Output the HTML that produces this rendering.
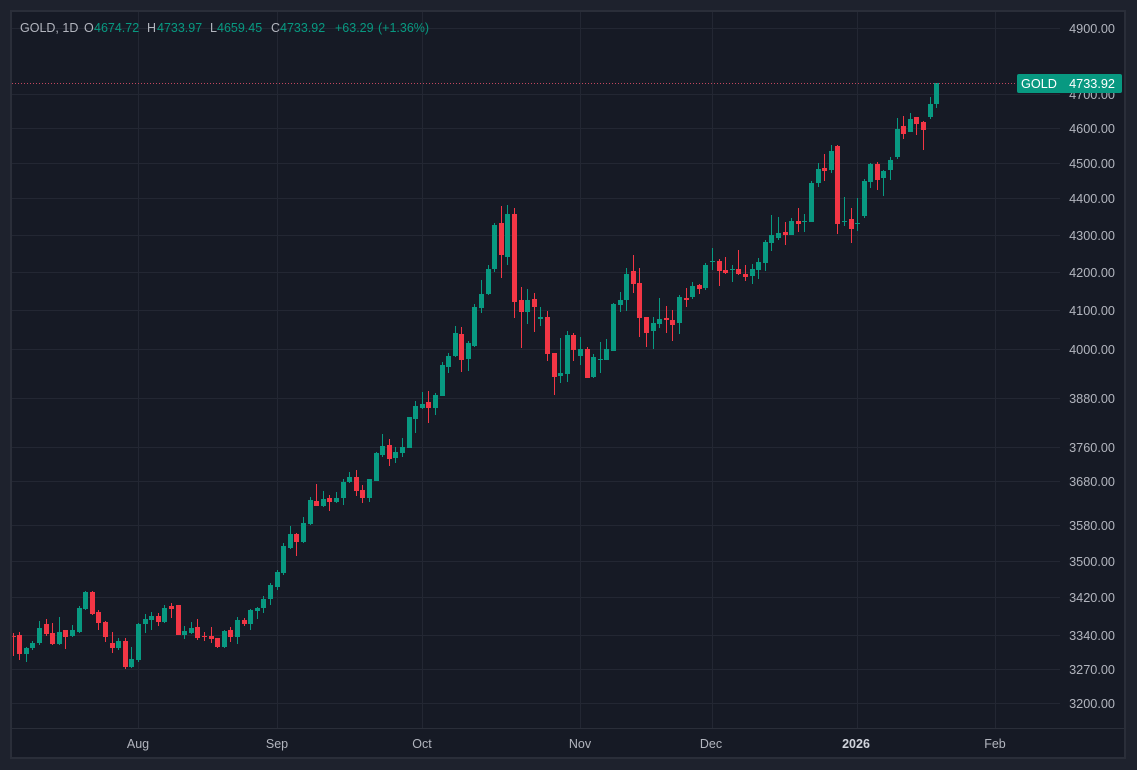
<!DOCTYPE html>
<html><head><meta charset="utf-8"><style>
html,body{margin:0;padding:0;background:#1e222d;}
svg{display:block;font-family:"Liberation Sans",sans-serif;}
</style></head><body>
<svg width="1137" height="770" viewBox="0 0 1137 770" xmlns="http://www.w3.org/2000/svg">
<defs><clipPath id="c"><rect x="12" y="12" width="1048" height="716"/></clipPath></defs>
<rect width="1137" height="770" fill="#1e222d"/>
<rect x="10" y="10" width="1116" height="749" fill="#2a2e39"/>
<rect x="12" y="12" width="1112" height="745" fill="#161a25"/>
<g stroke="#232733" stroke-width="1" fill="none">
<path d="M12 28.5H1060M12 94.5H1060M12 128.5H1060M12 163.5H1060M12 198.5H1060M12 235.5H1060M12 272.5H1060M12 310.5H1060M12 349.5H1060M12 398.5H1060M12 447.5H1060M12 481.5H1060M12 525.5H1060M12 561.5H1060M12 597.5H1060M12 635.5H1060M12 669.5H1060M12 703.5H1060"/>
<path d="M138.5 12V728M277.5 12V728M422.5 12V728M580.5 12V728M712.5 12V728M857.5 12V728M995.5 12V728"/>
</g>
<path d="M12 728.5H1124" stroke="#2a2e39" stroke-width="1"/>
<g clip-path="url(#c)" fill="none" transform="translate(0.5 0)">
<path stroke="#089981" stroke-width="1" d="M26 647V662M32 641V650M39 621V645M59 617V645M72 625V637M79 606V633M85 591V610M118 638V650M131 647V668M138 623V662M145 614V633M151 612V630M164 605V623M184 626V639M191 622V634M224 630V648M237 617V644M250 609V630M257 607V619M263 596V613M270 583V605M277 570V590M283 543V575M290 526V549M303 517V543M310 497V525M323 491V507M336 492V503M343 479V505M349 472V483M369 479V502M376 452V481M382 434V457M395 447V463M402 438V457M409 417V448M415 401V433M422 392V409M435 393V415M442 362V396M448 353V373M455 326V357M468 341V371M474 304V347M481 280V313M488 265V295M494 223V272M507 205V265M527 289V324M540 307V326M560 338V383M567 331V382M580 337V365M593 354V378M600 342V373M606 339V360M613 303V351M620 292V312M626 268V311M653 317V349M659 298V328M679 295V334M692 282V299M705 263V290M712 248V270M732 265V282M752 264V284M758 258V279M765 240V271M771 215V251M778 217V240M791 218V235M804 214V232M811 181V222M818 163V187M831 145V173M844 197V226M857 198V231M864 179V218M870 163V188M883 170V196M890 157V180M897 118V159M910 113V132M930 97V119M936 83V108"/>
<path stroke="#089981" stroke-width="5" d="M26 648V654M32 643V648M39 628V643M59 632V644M72 630V636M79 608V632M85 592V609M118 641V648M131 659V667M138 624V660M145 619V624M151 616V620M164 608V622M184 631V635M191 628V633M224 631V647M237 620V637M250 610V624M257 608V611M263 599V608M270 585V599M277 572V587M283 546V573M290 534V548M303 523V542M310 500V524M323 499V506M336 498V502M343 482V498M349 477V482M369 479V498M376 453V481M382 446V455M395 452V458M402 447V453M409 417V448M415 406V419M422 404V408M435 395V408M442 365V396M448 356V367M455 333V356M468 343V359M474 307V346M481 294V308M488 269V294M494 225V269M507 214V257M527 300V312M540 317V319M560 373V376M567 335V374M580 349V356M593 357V377M600 359V360M606 349V360M613 304V351M620 300V305M626 274V300M653 323V331M659 319V324M679 297V323M692 286V297M705 265V288M712 261V262M732 269V270M752 269V276M758 262V270M765 242V263M771 235V243M778 233V238M791 221V235M804 221V222M811 183V222M818 169V183M831 151V170M844 221V222M857 223V224M864 181V216M870 164V182M883 171V178M890 160V170M897 129V157M910 119V132M930 104V117M936 83V104"/>
<path stroke="#f23645" stroke-width="1" d="M13 633V656M19 632V660M46 619V636M52 623V645M65 630V649M92 591V615M98 610V630M105 621V642M112 632V653M125 638V669M158 613V626M171 603V618M178 605V635M197 619V640M204 632V641M211 627V643M217 638V648M230 627V642M244 618V626M296 533V556M316 484V506M329 495V511M356 470V496M362 485V503M389 439V466M428 391V423M461 327V372M501 206V278M514 208V318M521 287V348M534 293V332M547 311V361M554 353V395M573 333V361M587 347V378M633 255V293M639 268V337M646 317V347M666 306V333M672 310V341M686 288V307M699 284V294M719 259V286M725 257V274M738 250V275M745 265V281M785 222V245M798 208V232M824 154V181M837 145V234M851 208V243M877 162V190M903 116V139M916 117V135M923 121V150"/>
<path stroke="#f23645" stroke-width="5" d="M13 636V637M19 635V654M46 624V634M52 633V644M65 630V637M92 592V614M98 612V623M105 622V637M112 643V648M125 641V667M158 616V622M171 606V609M178 605V635M197 627V638M204 636V637M211 636V639M217 638V647M230 630V637M244 620V624M296 534V542M316 501V506M329 498V502M356 477V491M362 490V498M389 445V459M428 402V408M461 334V360M501 223V255M514 214V302M521 300V312M534 299V307M547 317V354M554 353V377M573 335V350M587 349V378M633 271V284M639 283V318M646 317V333M666 318V320M672 320V325M686 298V300M699 285V289M719 261V271M725 270V273M738 269V274M745 274V277M785 232V235M798 221V224M824 168V171M837 146V224M851 219V229M877 164V180M903 126V134M916 117V124M923 122V130"/>
</g>
<path d="M12 83.5H1017" stroke="#e0506a" stroke-width="1" stroke-dasharray="1 2" opacity="0.85"/>
<g font-size="12.5">
<text x="20" y="32" fill="#b2b5be">GOLD, 1D</text>
<text x="84" y="32" fill="#b2b5be">O</text><text x="94" y="32" fill="#089981">4674.72</text>
<text x="147" y="32" fill="#b2b5be">H</text><text x="157" y="32" fill="#089981">4733.97</text>
<text x="210" y="32" fill="#b2b5be">L</text><text x="217" y="32" fill="#089981">4659.45</text>
<text x="271" y="32" fill="#b2b5be">C</text><text x="280" y="32" fill="#089981">4733.92</text>
<text x="335" y="32" fill="#089981">+63.29</text>
<text x="378" y="32" fill="#089981">(+1.36%)</text>
</g>
<g font-size="12.7" fill="#b2b5be" text-anchor="end">
<text x="1115" y="33">4900.00</text>
<text x="1115" y="99">4700.00</text>
<text x="1115" y="133">4600.00</text>
<text x="1115" y="168">4500.00</text>
<text x="1115" y="203">4400.00</text>
<text x="1115" y="240">4300.00</text>
<text x="1115" y="277">4200.00</text>
<text x="1115" y="315">4100.00</text>
<text x="1115" y="354">4000.00</text>
<text x="1115" y="403">3880.00</text>
<text x="1115" y="452">3760.00</text>
<text x="1115" y="486">3680.00</text>
<text x="1115" y="530">3580.00</text>
<text x="1115" y="566">3500.00</text>
<text x="1115" y="602">3420.00</text>
<text x="1115" y="640">3340.00</text>
<text x="1115" y="674">3270.00</text>
<text x="1115" y="708">3200.00</text>
</g>
<rect x="1017" y="74" width="105" height="19" rx="2" fill="#089981"/>
<g font-size="12.7" fill="#ffffff">
<text x="1021" y="88">GOLD</text>
<text x="1115" y="88" text-anchor="end">4733.92</text>
</g>
<g font-size="12.5" fill="#b2b5be" text-anchor="middle">
<text x="138" y="748">Aug</text>
<text x="277" y="748">Sep</text>
<text x="422" y="748">Oct</text>
<text x="580" y="748">Nov</text>
<text x="711" y="748">Dec</text>
<text x="856" y="748" font-weight="bold" fill="#d1d4dc">2026</text>
<text x="995" y="748">Feb</text>
</g>
</svg>
</body></html>
